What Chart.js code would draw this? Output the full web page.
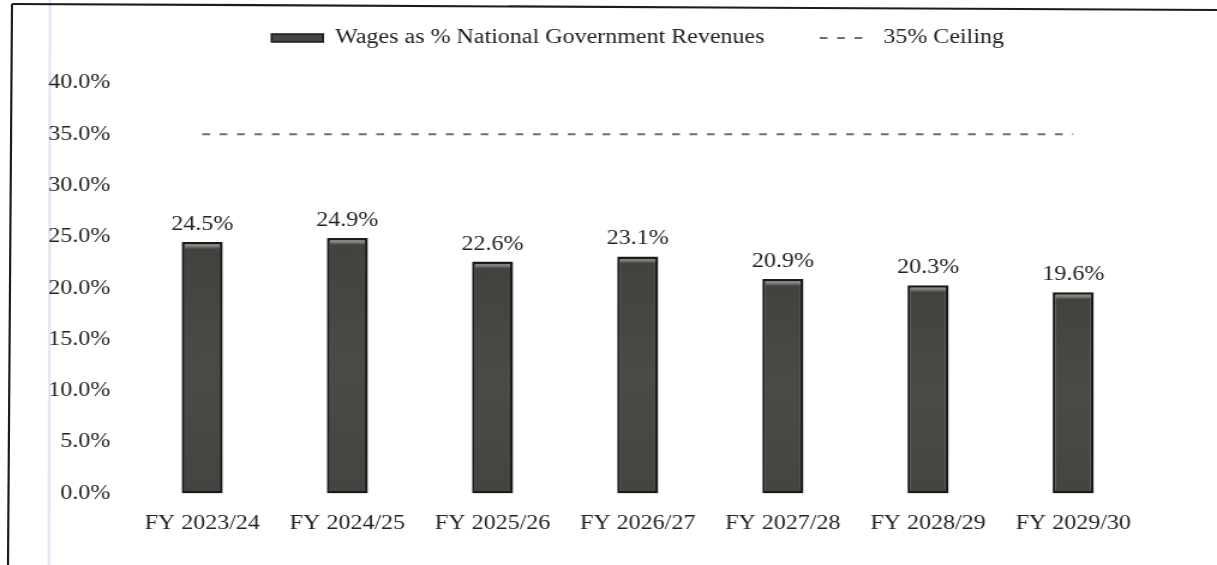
<!DOCTYPE html>
<html>
<head>
<meta charset="utf-8">
<script src="https://cdn.jsdelivr.net/npm/chart.js@4.4.1/dist/chart.umd.min.js"></script>
<style>
  html, body { margin: 0; padding: 0; background: #ffffff; }
  body { width: 1217px; height: 565px; position: relative; overflow: hidden; }
  #deco { position: absolute; left: 0; top: 0; }
  #c { position: absolute; left: 0; top: 0; }
</style>
</head>
<body>
<svg id="deco" width="1217" height="565">
  <line x1="50" y1="0" x2="49" y2="565" stroke="#e8e8f4" stroke-width="3"/>
  <line x1="12" y1="4" x2="1217" y2="10" stroke="#1c1c1c" stroke-width="2.2"/>
  <line x1="12" y1="4" x2="8" y2="565" stroke="#1c1c1c" stroke-width="2.2"/>
</svg>
<canvas id="c" width="1014" height="565" style="width:1217px;height:565px"></canvas>
<script>
// ---- data ----
const categories = ['FY 2023/24', 'FY 2024/25', 'FY 2025/26', 'FY 2026/27', 'FY 2027/28', 'FY 2028/29', 'FY 2029/30'];
const wageShare = [24.5, 24.9, 22.6, 23.1, 20.9, 20.3, 19.6];
const ceiling = [35, 35, 35, 35, 35, 35, 35];
const seriesNames = ['Wages as % National Government Revenues', '35% Ceiling'];
const yMin = 0;
const yMax = 40;
const yStep = 5;

const SERIF = '"Liberation Serif", "Times New Roman", serif';
Chart.defaults.font.family = SERIF;
Chart.defaults.font.size = 20;
Chart.defaults.color = '#222222';

const BAR_FILL = '#474643';
const BAR_EDGE = '#1a1a1a';
const LINE_COL = '#6e6e6e';

// bar fill with the light band just under the top edge
function barFill(c) {
  if (c.type !== 'data') return BAR_FILL;
  const chart = c.chart;
  const area = chart.chartArea;
  if (!area || !chart.scales.y) return BAR_FILL;
  const yTop = chart.scales.y.getPixelForValue(c.raw);
  const h = Math.max(1, area.bottom - yTop);
  const s = (px) => Math.min(1, Math.max(0, px / h));
  const g = chart.ctx.createLinearGradient(0, yTop, 0, area.bottom);
  g.addColorStop(0, '#3c3b39');
  g.addColorStop(s(3.5), '#8c8b87');
  g.addColorStop(s(7), '#43423f');
  g.addColorStop(0.5, '#4b4a46');
  g.addColorStop(1, '#454441');
  return g;
}

// value labels above the bars, positioned from the bar elements
const valueLabels = {
  id: 'valueLabels',
  afterDatasetsDraw(chart) {
    const ctx = chart.ctx;
    const meta = chart.getDatasetMeta(0);
    ctx.save();
    ctx.font = '20px ' + SERIF;
    ctx.fillStyle = '#222222';
    ctx.textAlign = 'center';
    ctx.textBaseline = 'alphabetic';
    meta.data.forEach((bar, i) => {
      ctx.fillText(wageShare[i].toFixed(1) + '%', bar.x, bar.y - 12);
    });
    ctx.restore();
  }
};

// reserve room between legend and plot area
const legendSpacer = {
  id: 'legendSpacer',
  beforeLayout(chart) {
    const lg = chart.legend;
    if (lg && !lg._spacerPatched) {
      const fit = lg.fit;
      lg.fit = function () { fit.call(this); this.height = 101; };
      lg._spacerPatched = true;
    }
  }
};

new Chart(document.getElementById('c'), {
  type: 'bar',
  data: {
    labels: categories,
    datasets: [
      {
        label: seriesNames[0],
        data: wageShare,
        backgroundColor: barFill,
        borderColor: BAR_EDGE,
        borderWidth: 2.5,
        borderSkipped: false,
        barPercentage: 0.283,
        categoryPercentage: 1.0
      },
      {
        type: 'line',
        label: seriesNames[1],
        data: ceiling,
        borderColor: LINE_COL,
        backgroundColor: LINE_COL,
        borderWidth: 2,
        borderDash: [6.5, 8],
        pointRadius: 0,
        pointHoverRadius: 0,
        fill: false
      }
    ]
  },
  options: {
    responsive: false,
    maintainAspectRatio: false,
    animation: false,
    events: [],
    layout: { padding: { left: 0, right: 59.3, top: -18, bottom: 11.5 } },
    plugins: {
      tooltip: { enabled: false },
      title: { display: false },
      legend: {
        display: true,
        position: 'top',
        fullSize: false,
        labels: {
          usePointStyle: true,
          pointStyleWidth: 43,
          boxHeight: 8,
          padding: 46,
          color: '#222222',
          font: { size: 20, family: SERIF },
          generateLabels(chart) {
            const items = Chart.defaults.plugins.legend.labels.generateLabels(chart);
            items.forEach((it) => {
              if (it.datasetIndex === 0) {
                it.pointStyle = 'rect';
                it.fillStyle = BAR_FILL;
                it.strokeStyle = BAR_EDGE;
                it.lineWidth = 1.5;
                it.lineDash = [];
              } else {
                it.pointStyle = 'line';
                it.fillStyle = LINE_COL;
                it.strokeStyle = LINE_COL;
                it.lineWidth = 2;
                it.lineDash = [6.5, 8];
              }
            });
            return items;
          }
        }
      }
    },
    scales: {
      x: {
        grid: { display: false, drawTicks: false },
        border: { display: false },
        ticks: { padding: 18, color: '#222222', font: { size: 20, family: SERIF }, maxRotation: 0, autoSkip: false }
      },
      y: {
        min: yMin,
        max: yMax,
        grid: { display: false, drawTicks: false },
        border: { display: false },
        ticks: {
          stepSize: yStep,
          padding: 16,
          color: '#222222',
          font: { size: 20, family: SERIF },
          callback: (v) => Number(v).toFixed(1) + '%'
        },
        afterFit(scale) {
          scale.width = 108;
        }
      }
    }
  },
  plugins: [legendSpacer, valueLabels]
});
</script>
</body>
</html>
